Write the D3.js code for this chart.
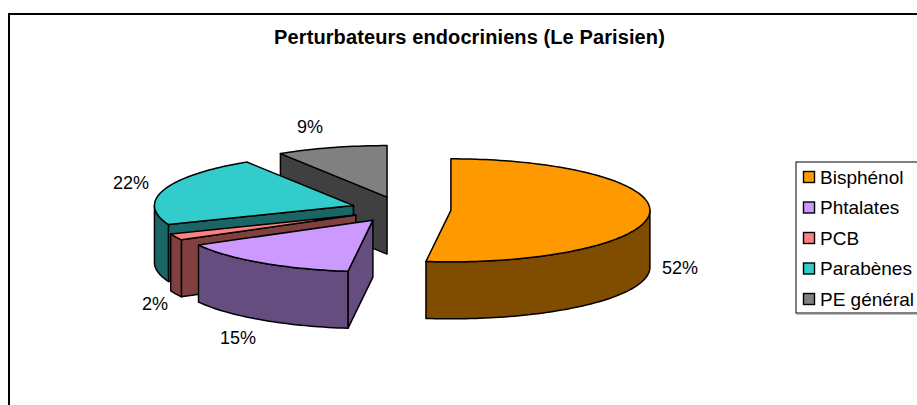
<!DOCTYPE html>
<html><head><meta charset="utf-8">
<script src="https://cdnjs.cloudflare.com/ajax/libs/d3/7.8.5/d3.min.js"></script>
<style>html,body{margin:0;padding:0;background:#fff}svg{display:block}text{font-family:"Liberation Sans",Arial,sans-serif;fill:#000}</style>
</head><body><svg id="c" width="917" height="405"></svg>
<script>
const title = "Perturbateurs endocriniens (Le Parisien)";
const categories = ["Bisphénol","Phtalates","PCB","Parabènes","PE général"];
const values = [52,15,2,22,9];
const topColors = ["#FF9900","#CC99FF","#FF8080","#33CCCC","#808080"];
const wallColors = ["#804D00","#664D80","#804040","#1A6666","#404040"];

const W=917,H=405;
const svg=d3.select("#c");
const cx=401, cy=209.5, rx=199, ry=51.5, depth=57, explode=50, tilt=ry/rx;
const x=d3.scaleLinear().domain([-1,1]).range([cx-rx,cx+rx]);
const y=d3.scaleLinear().domain([-1,1]).range([cy+ry,cy-ry]);
const line=d3.line();
const pie=d3.pie().sort(null).value(d=>d);
const arcs=pie(values);

svg.append("rect").attr("x",9).attr("y",14).attr("width",W+20).attr("height",H+20)
  .attr("fill","#fff").attr("stroke","#000").attr("stroke-width",2);
svg.append("text").attr("x",469.5).attr("y",37).attr("text-anchor","middle").attr("dominant-baseline","central")
  .attr("font-size",20).attr("font-weight","bold").attr("letter-spacing",0.1).text(title);

function slicePaths(a){
  const m=(a.startAngle+a.endAngle)/2;
  const ox=explode*Math.sin(m), oy=explode*tilt*Math.cos(m);
  const P=t=>[x(Math.sin(t))+ox,y(Math.cos(t))-oy];
  const apex=[x(0)+ox,y(0)-oy];
  const down=p=>[p[0],p[1]+depth];
  const n=Math.max(4,Math.ceil((a.endAngle-a.startAngle)*40));
  const ts=d3.range(n+1).map(i=>a.startAngle+(a.endAngle-a.startAngle)*i/n);
  const rim=ts.map(P);
  const wall=t=>[apex,P(t),down(P(t)),down(apex)];
  const lo=Math.max(a.startAngle,Math.PI/2), hi=Math.min(a.endAngle,Math.PI*1.5);
  let outer=null;
  if(hi>lo){
    const k=Math.ceil((hi-lo)*40);
    const f=d3.range(k+1).map(i=>P(lo+(hi-lo)*i/k));
    outer=f.concat(f.map(down).reverse());
  }
  const walls=[];
  if(Math.sin(a.startAngle)<-1e-6) walls.push(wall(a.startAngle));
  if(Math.sin(a.endAngle)>1e-6) walls.push(wall(a.endAngle));
  return {top:[apex,...rim],outer,walls};
}
const order=[4,3,2,1,0];
const g=svg.append("g").attr("stroke","#000").attr("stroke-width",1.5).attr("stroke-linejoin","round");
order.forEach(i=>{
  const s=slicePaths(arcs[i]);
  s.walls.forEach(w=>g.append("path").attr("d",line(w)+"Z").attr("fill",wallColors[i]));
  if(s.outer) g.append("path").attr("d",line(s.outer)+"Z").attr("fill",wallColors[i]);
  g.append("path").attr("d",line(s.top)+"Z").attr("fill",topColors[i]);
});

const labelSpots=[[680,268],[238,338],[155,304],[131,183],[310,127]];
values.forEach((v,i)=>svg.append("text").attr("x",labelSpots[i][0]).attr("y",labelSpots[i][1])
  .attr("text-anchor","middle").attr("dominant-baseline","central").attr("font-size",18).text(v+"%"));

// legend
const lx=796, ly=162, lh=151;
svg.append("rect").attr("x",lx).attr("y",ly).attr("width",W-lx+20).attr("height",lh)
  .attr("fill","#fff").attr("stroke","#000").attr("stroke-width",1);
svg.append("line").attr("x1",lx).attr("x2",W).attr("y1",ly+lh+1).attr("y2",ly+lh+1).attr("stroke","#808080");
const row=d3.scalePoint().domain(categories).range([177,299]);
categories.forEach((c,i)=>{
  svg.append("rect").attr("x",803.5).attr("y",row(c)-5.5).attr("width",11).attr("height",11)
    .attr("fill",topColors[i]).attr("stroke","#000").attr("stroke-width",1.4);
  svg.append("text").attr("x",820).attr("y",row(c)).attr("dominant-baseline","central")
    .attr("font-size",19).text(c);
});
</script></body></html>
